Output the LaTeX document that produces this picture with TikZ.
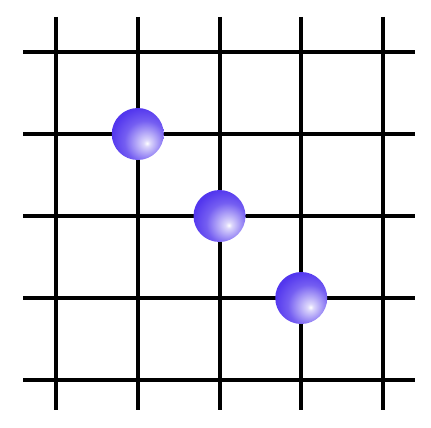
\documentclass[tikz,border=0pt]{standalone}
\usepackage{xcolor}
\usepackage{tikz}
\definecolor{cBall}{HTML}{5236EE}
\definecolor{cInk}{HTML}{000000}
\pgfdeclareradialshading{ballshade}{\pgfpoint{9bp}{-9bp}}{%
  color(0bp)=(white); color(3bp)=(cBall!20!white);
  color(20bp)=(cBall!80!white); color(32bp)=(cBall); color(100bp)=(cBall)}
\tikzset{
  gridline/.style = {draw=cInk, line width=4pt},
  ball/.style     = {circle, minimum size=52pt, inner sep=0pt,
                     shading=ballshade},
}

\begin{document}
\begin{tikzpicture}[x=1pt, y=-1pt]
  \useasboundingbox (0,0) rectangle (431,428);
  \foreach \i in {0,...,4} {
    \draw[gridline] (56+81.75*\i,17) -- (56+81.75*\i,410);
    \draw[gridline] (23,52+82*\i) -- (415,52+82*\i);
  }
  \node[ball] (b1) at (137.75,134) {};
  \node[ball] (b2) at (219.5,216)  {};
  \node[ball] (b3) at (301.25,298) {};
\end{tikzpicture}
\end{document}
